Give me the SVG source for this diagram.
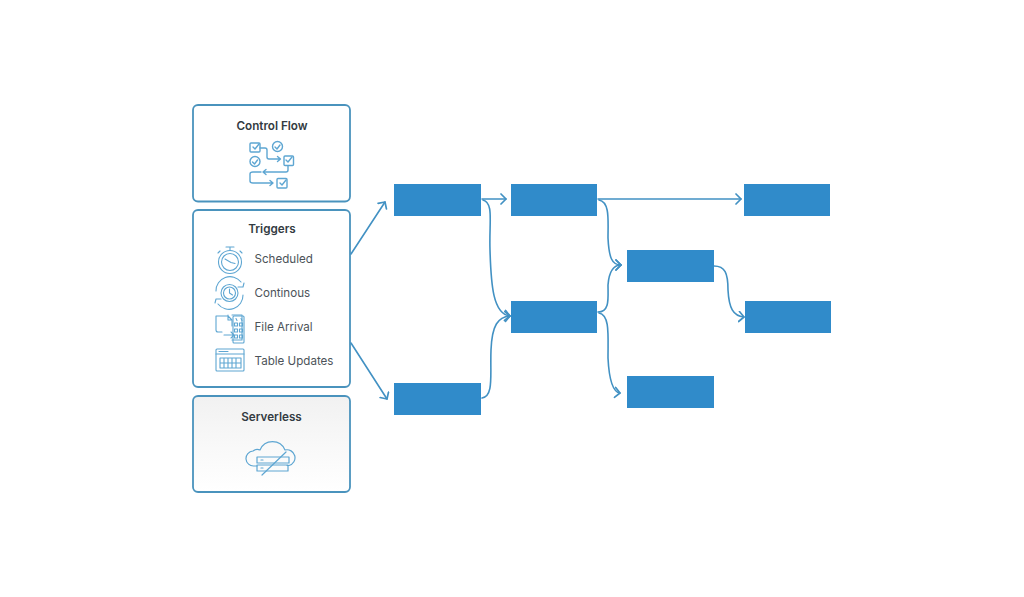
<svg xmlns="http://www.w3.org/2000/svg" width="1024" height="597" viewBox="0 0 1024 597">
<style>
.card{fill:#fff;stroke:#4a93bd;stroke-width:1.8}
.t{font-family:"Inter","Liberation Sans",sans-serif;font-weight:600;font-size:11.7px;fill:#333b42;text-anchor:middle}
.l{font-family:"Inter","Liberation Sans",sans-serif;font-size:11.6px;fill:#4c5359}
.i{fill:none;stroke:#5ea6d2;stroke-width:1.4;stroke-linecap:round;stroke-linejoin:round}
.b{fill:#308bca}
.c{fill:none;stroke:#4291c3;stroke-width:1.6;stroke-linecap:round;stroke-linejoin:round}
</style>
<defs>
<linearGradient id="g" x1="0" y1="0" x2="0" y2="1"><stop offset="0" stop-color="#f1f1f1"/><stop offset=".55" stop-color="#f9f9f9"/><stop offset="1" stop-color="#fff"/></linearGradient>
<marker id="a" markerUnits="userSpaceOnUse" markerWidth="12" markerHeight="14" refX="6" refY="6" orient="auto"><path d="M1 1L6 6L1 11" fill="none" stroke="#4291c3" stroke-width="1.7" stroke-linecap="round" stroke-linejoin="round"/></marker>
</defs>
<rect width="1024" height="597" fill="#fff"/>
<g id="control-flow">
<rect class="card" x="193" y="105" width="157" height="96.500" rx="5"/>
<text class="t" x="272" y="130">Control Flow</text>
<g class="i">
<rect x="250" y="143" width="10" height="9" rx="1"/><path d="M253 147l2 2 4-5"/>
<circle cx="277.500" cy="146.500" r="5"/><path d="M275 147l2 2 3-4"/>
<circle cx="255" cy="161.500" r="5"/><path d="M252.500 162l2 2 3-4"/>
<rect x="284" y="156" width="9.500" height="9.500" rx="1"/><path d="M286 160l2 2 4-5"/>
<path d="M260 148h5q2 0 2 2v7q0 2 2 2h11M277.500 156.500l3 2.500-3 2.500"/>
<path d="M288 166v4q0 2-2 2h-23M266 169.500l-3 2.500 3 2.500"/>
<path d="M261 172h-8q-3 0-3 2v7q0 2 3 2h20M270 180.500l3 2.500-3 2.500"/>
<rect x="277" y="178.500" width="10" height="9.500" rx="1"/><path d="M280 183l2 2 4-5"/>
</g>
</g>
<g id="triggers">
<rect class="card" x="193" y="210" width="157" height="177" rx="5"/>
<text class="t" x="272" y="233">Triggers</text>
<text class="l" x="254.500" y="262.500">Scheduled</text>
<text class="l" x="254.500" y="296.500">Continous</text>
<text class="l" x="254.500" y="330.500">File Arrival</text>
<text class="l" x="254.500" y="364.500">Table Updates</text>
<g class="i" style="stroke-width:1.1">
<circle cx="230" cy="262" r="11.500"/><circle cx="230" cy="262" r="8.500"/><path d="M226 247h8M230 247v3M220 251l-2 2M240 251l2 2M225 259l6 3.500 4 1"/>
<circle cx="229.500" cy="293" r="8.500"/><circle cx="229.500" cy="293" r="6"/><path d="M229.500 289v4l3 2"/><path d="M216 291a14 14 0 0 1 25-9M243 295a14 14 0 0 1-25 9M238 287l5 0 1-4M221 299l-5 0-1 4"/>
<path d="M222 332h-4q-2 0-2-2v-14h12l4 4v6M228 315v5h4M224 335h10M231 332l3 3-3 3"/>
<path d="M232 315h10v25h-10"/><rect x="233" y="316" width="11" height="27" rx="1"/>
<path d="M234.500 323h3v3h-3zM239.500 323h3v3h-3zM234.500 329h3v3h-3zM239.500 329h3v3h-3zM234.500 335h3v3h-3zM239.500 335h3v3h-3zM236 318.500l1 2M241 318.500l1 2"/>
<rect x="216" y="349" width="28" height="22" rx="1"/><path d="M216 354h28M219 351.500h9M220 358h21v10h-21zM220 363h21M224 358v10M228 358v10M232 358v10M236 358v10"/>
</g>
</g>
<g id="serverless">
<rect class="card" x="193" y="396" width="157" height="96" rx="5" style="fill:url(#g)"/>
<text class="t" x="271.500" y="420.500">Serverless</text>
<g class="i" style="stroke-width:1.2">
<path d="M257 466h-3a7.500 7.500 0 0 1-1-15 7 7 0 0 1 7-1 13.500 13.500 0 0 1 25 0 8 8 0 0 1 4 15.500h-2" fill="none"/>
<rect x="257" y="457" width="32" height="6"/><rect x="257" y="465" width="31" height="6"/>
<path d="M261 460h2M261 468h2M262 475L286 452"/>
</g>
</g>
<g id="connectors" class="c">
<path d="M351 254L385 202" marker-end="url(#a)"/>
<path d="M351 343L387 399" marker-end="url(#a)"/>
<path d="M482 199H506" marker-end="url(#a)"/>
<path d="M483 200C494 203 489 222 490 250C491 285 493 314 510 316" marker-end="url(#a)"/>
<path d="M482 398C494 396 490 375 491 350C492 325 498 317 510 316" marker-end="url(#a)"/>
<path d="M598 199H741" marker-end="url(#a)"/>
<path d="M599 200C610 202 608 220 608 238C609 258 612 265 621 265" marker-end="url(#a)"/>
<path d="M598 312C610 312 608 298 608 285C609 272 613 265 621 265" marker-end="url(#a)"/>
<path d="M599 313C610 315 608 335 608 358C609 378 612 392 620 393" marker-end="url(#a)"/>
<path d="M714 266C725 266 728 273 728 290C729 308 733 316 744 317" marker-end="url(#a)"/>
</g>
<g id="n1"><rect class="b" x="394" y="184" width="87" height="32"/></g>
<g id="n2"><rect class="b" x="394" y="383" width="87" height="32"/></g>
<g id="n3"><rect class="b" x="511" y="184" width="86" height="32"/></g>
<g id="n4"><rect class="b" x="511" y="301" width="86" height="32"/></g>
<g id="n5"><rect class="b" x="627" y="250" width="87" height="32"/></g>
<g id="n6"><rect class="b" x="627" y="376" width="87" height="32"/></g>
<g id="n7"><rect class="b" x="744" y="184" width="86" height="32"/></g>
<g id="n8"><rect class="b" x="745" y="301" width="86" height="32"/></g>
</svg>
